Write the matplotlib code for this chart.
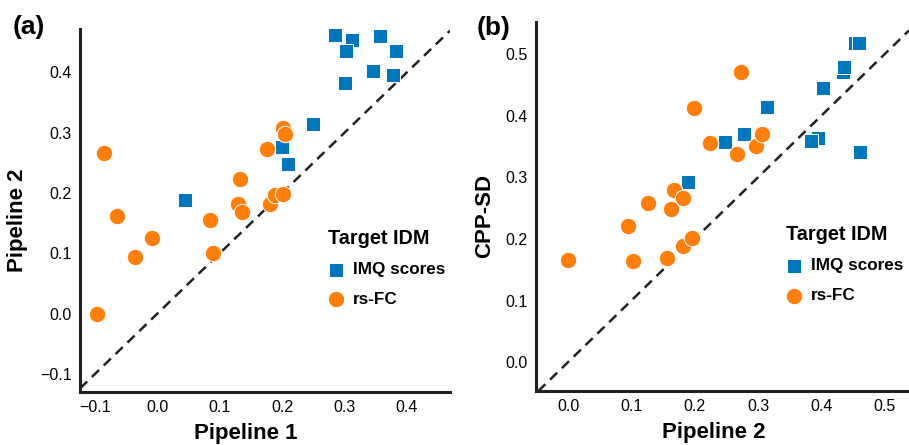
import matplotlib
matplotlib.use("Agg")
import matplotlib.pyplot as plt

plt.rcParams['font.family'] = ['Liberation Sans', 'DejaVu Sans']

BLUE = "#0077bb"
ORANGE = "#ff7f0e"

# panel (a): Pipeline 1 vs Pipeline 2
a_imq_x = [0.284, 0.312, 0.303, 0.357, 0.382, 0.346, 0.377, 0.301, 0.249, 0.200, 0.210, 0.044]
a_imq_y = [0.462, 0.454, 0.435, 0.461, 0.436, 0.403, 0.396, 0.383, 0.315, 0.277, 0.248, 0.189]
a_fc_x = [-0.085, -0.064, 0.084, 0.132, 0.129, 0.136, 0.176, 0.201, 0.205, 0.181, 0.188, 0.201,
          -0.009, -0.036, 0.089, -0.096]
a_fc_y = [0.266, 0.162, 0.156, 0.224, 0.182, 0.168, 0.273, 0.307, 0.298, 0.182, 0.197, 0.199,
          0.126, 0.094, 0.101, 0.000]

# panel (b): Pipeline 2 vs CPP-SD
b_imq_x = [0.453, 0.459, 0.434, 0.436, 0.403, 0.314, 0.277, 0.248, 0.395, 0.383, 0.461, 0.189]
b_imq_y = [0.518, 0.517, 0.471, 0.479, 0.445, 0.414, 0.370, 0.357, 0.363, 0.358, 0.341, 0.292]
b_fc_x = [0.273, 0.199, 0.224, 0.266, 0.296, 0.306, 0.167, 0.181, 0.126, 0.162,
          0.094, 0.000, 0.102, 0.156, 0.181, 0.195]
b_fc_y = [0.470, 0.413, 0.356, 0.338, 0.351, 0.370, 0.280, 0.267, 0.258, 0.248,
          0.221, 0.165, 0.164, 0.169, 0.188, 0.201]

a_ticks = [-0.1, 0.0, 0.1, 0.2, 0.3, 0.4]
b_ticks = [0.0, 0.1, 0.2, 0.3, 0.4, 0.5]


def draw_panel(ax, imq_x, imq_y, fc_x, fc_y, xlim, ylim, ticks, xlabel, ylabel):
    ax.scatter(imq_x, imq_y, s=115, marker="s", color=BLUE, edgecolor="white",
               linewidth=0.7, label="IMQ scores", zorder=3)
    ax.scatter(fc_x, fc_y, s=140, marker="o", color=ORANGE, edgecolor="white",
               linewidth=0.7, label="rs-FC", zorder=3)
    ax.axline((0, 0), slope=1, color="#222222", linestyle=(0, (4, 2.6)), linewidth=1.8, zorder=2)
    ax.set_xlim(*xlim)
    ax.set_ylim(*ylim)
    ax.set_xticks(ticks)
    ax.set_yticks(ticks)
    ax.set_xticklabels(["\u22120.1" if t < 0 else "%.1f" % t for t in ticks])
    ax.set_yticklabels(["\u22120.1" if t < 0 else "%.1f" % t for t in ticks])
    ax.tick_params(length=0, labelsize=11.5, pad=6)
    for side in ["top", "right"]:
        ax.spines[side].set_visible(False)
    for side in ["left", "bottom"]:
        ax.spines[side].set_linewidth(2.2)
        ax.spines[side].set_color("#222222")
    ax.set_xlabel(xlabel, fontsize=16, fontweight="bold")
    ax.set_ylabel(ylabel, fontsize=16, fontweight="bold")
    leg = ax.legend(title="Target IDM", loc="upper left", bbox_to_anchor=(0.67, 0.45),
                    frameon=False, prop={"size": 12.3, "weight": "bold"},
                    title_fontproperties={"size": 14.3, "weight": "bold"},
                    handlelength=0.9, handletextpad=0.55, labelspacing=0.85,
                    borderaxespad=0, borderpad=0, alignment="left")
    return leg


fig = plt.figure(figsize=(9.09, 4.45), dpi=100)
ax1 = fig.add_axes([0.088, 0.119, 0.407, 0.816])
ax2 = fig.add_axes([0.590, 0.121, 0.410, 0.830])

draw_panel(ax1, a_imq_x, a_imq_y, a_fc_x, a_fc_y, (-0.124, 0.469), (-0.130, 0.472),
           a_ticks, "Pipeline 1", "Pipeline 2")
draw_panel(ax2, b_imq_x, b_imq_y, b_fc_x, b_fc_y, (-0.050, 0.538), (-0.047, 0.552),
           b_ticks, "Pipeline 2", "CPP-SD")

ax1.xaxis.set_label_coords(0.449, -0.086)
ax1.yaxis.set_label_coords(-0.14, 0.474)
ax2.xaxis.set_label_coords(0.475, -0.083)
ax2.yaxis.set_label_coords(-0.11, 0.474)

fig.text(29 / 909, 1 - 27 / 445, "(a)", fontsize=19, fontweight="bold", ha="center", va="center")
fig.text(494 / 909, 1 - 28 / 445, "(b)", fontsize=19, fontweight="bold", ha="center", va="center")

fig.savefig("out.png", dpi=100)
